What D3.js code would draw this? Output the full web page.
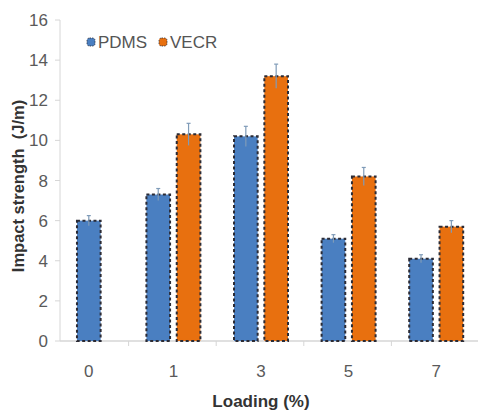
<!DOCTYPE html>
<html>
<head>
<meta charset="utf-8">
<script src="https://cdn.jsdelivr.net/npm/d3@7"></script>
<style>
  body { margin: 0; background: #fff; }
  text { font-family: "Liberation Sans", Arial, sans-serif; }
</style>
</head>
<body>
<div class="chart"></div>
<script>
// data
var loadings = ["0", "1", "3", "5", "7"];
var seriesNames = ["PDMS", "VECR"];
var pdmsValues = [6.0, 7.3, 10.2, 5.1, 4.1];
var vecrValues = [null, 10.3, 13.2, 8.2, 5.7];
var pdmsErrors = [0.25, 0.3, 0.5, 0.2, 0.2];
var vecrErrors = [null, 0.55, 0.6, 0.45, 0.3];
var yTicks = [0, 2, 4, 6, 8, 10, 12, 14, 16];

var colors = { PDMS: "#4a7fc1", VECR: "#e8700f" };

var svgWidth = 479;
var svgHeight = 416;

var svg = d3.select(".chart")
  .append("svg")
  .attr("width", svgWidth)
  .attr("height", svgHeight);

// scales
var yScale = d3.scaleLinear()
  .domain([0, 16])
  .range([341, 20]);

var xScale = d3.scaleBand()
  .domain(loadings)
  .range([42, 480]);

var xSub = d3.scaleBand()
  .domain(seriesNames)
  .range([0, 54])
  .paddingInner(0.22);

// build rows
var rows = loadings.map(function(l, i) {
  var list = [];
  if (pdmsValues[i] != null) list.push({ s: "PDMS", v: pdmsValues[i], e: pdmsErrors[i] });
  if (vecrValues[i] != null) list.push({ s: "VECR", v: vecrValues[i], e: vecrErrors[i] });
  return { cat: l, bars: list };
});

// axes
var axisColor = "#d6d6d6";

svg.append("line")
  .attr("x1", 60).attr("x2", 60)
  .attr("y1", yScale(16)).attr("y2", yScale(0))
  .attr("stroke", axisColor);

svg.selectAll(".ytick")
  .data(yTicks)
  .enter()
  .append("line")
  .attr("x1", 55).attr("x2", 60)
  .attr("y1", d => yScale(d)).attr("y2", d => yScale(d))
  .attr("stroke", axisColor);

svg.selectAll(".ylab")
  .data(yTicks)
  .enter()
  .append("text")
  .attr("x", 48)
  .attr("y", d => yScale(d))
  .attr("dy", "0.36em")
  .attr("text-anchor", "end")
  .attr("font-size", "17px")
  .attr("fill", "#5a5a5a")
  .text(d => d);

svg.append("line")
  .attr("x1", 60).attr("x2", 478)
  .attr("y1", yScale(0)).attr("y2", yScale(0))
  .attr("stroke", axisColor)
  .attr("stroke-width", 1.5);

// category separator ticks
svg.selectAll(".xtick")
  .data(loadings.slice(1))
  .enter()
  .append("line")
  .attr("x1", d => xScale(d) - 1).attr("x2", d => xScale(d) - 1)
  .attr("y1", yScale(0)).attr("y2", yScale(0) + 5)
  .attr("stroke", axisColor);

svg.selectAll(".xlab")
  .data(loadings)
  .enter()
  .append("text")
  .attr("x", (d, i) => xScale(d) + xScale.bandwidth() / 2 + (i === 0 ? 3 : 0))
  .attr("y", 377)
  .attr("text-anchor", "middle")
  .attr("font-size", "17px")
  .attr("fill", "#5a5a5a")
  .text(d => d);

// bars
var groups = svg.selectAll(".group")
  .data(rows)
  .enter()
  .append("g")
  .attr("transform", function(d) {
    var c = xScale(d.cat) + xScale.bandwidth() / 2;
    // a lone bar sits in the middle of its slot
    var w = d.bars.length === 1 ? xSub.bandwidth() : 54;
    return `translate(${c - w / 2 + (d.bars.length === 1 ? 3 : 0)}, 0)`;
  });

groups.each(function(row) {
  var g = d3.select(this);
  var bars = g.selectAll("rect")
    .data(row.bars)
    .enter();

  bars.append("rect")
    .attr("x", d => row.bars.length === 1 ? 0 : xSub(d.s))
    .attr("y", d => yScale(d.v))
    .attr("width", xSub.bandwidth())
    .attr("height", d => yScale(0) - yScale(d.v))
    .attr("fill", d => colors[d.s])
    .attr("stroke", "#2b2b35")
    .attr("stroke-width", 2)
    .attr("stroke-dasharray", "3,2.5");

  // error bars
  bars.append("line")
    .attr("x1", d => (row.bars.length === 1 ? 0 : xSub(d.s)) + xSub.bandwidth() / 2)
    .attr("x2", d => (row.bars.length === 1 ? 0 : xSub(d.s)) + xSub.bandwidth() / 2)
    .attr("y1", d => yScale(d.v - d.e))
    .attr("y2", d => yScale(d.v + d.e))
    .attr("stroke", "#7f9bb8")
    .attr("stroke-width", 1.2);

  bars.append("line")
    .attr("x1", d => (row.bars.length === 1 ? 0 : xSub(d.s)) + xSub.bandwidth() / 2 - 2)
    .attr("x2", d => (row.bars.length === 1 ? 0 : xSub(d.s)) + xSub.bandwidth() / 2 + 2)
    .attr("y1", d => yScale(d.v + d.e))
    .attr("y2", d => yScale(d.v + d.e))
    .attr("stroke", "#7f9bb8")
    .attr("stroke-width", 1.2);
});

// legend
var legend = svg.append("g")
  .attr("transform", "translate(91, 42)");

var legendItems = legend.selectAll("g")
  .data(seriesNames)
  .enter()
  .append("g")
  .attr("transform", (d, i) => `translate(${i * 72}, 0)`);

legendItems.append("rect")
  .attr("x", -4).attr("y", -4)
  .attr("width", 8).attr("height", 8)
  .attr("rx", 2.5)
  .attr("fill", d => colors[d])
  .attr("stroke", "#2b2b35")
  .attr("stroke-width", 0.8)
  .attr("stroke-dasharray", "1.5,1");

legendItems.append("text")
  .attr("x", 7)
  .attr("y", 0)
  .attr("dy", "0.36em")
  .attr("font-size", "17px")
  .attr("fill", "#555")
  .text(d => d);

// axis titles
svg.append("text")
  .attr("transform", "translate(24, 186) rotate(-90)")
  .attr("text-anchor", "middle")
  .attr("font-size", "16.5px")
  .attr("font-weight", "bold")
  .attr("fill", "#333")
  .attr("xml:space", "preserve")
  .text("Impact strength  (J/m)");

svg.append("text")
  .attr("x", 261)
  .attr("y", 407)
  .attr("text-anchor", "middle")
  .attr("font-size", "17px")
  .attr("font-weight", "bold")
  .attr("fill", "#333")
  .text("Loading (%)");
</script>
</body>
</html>
